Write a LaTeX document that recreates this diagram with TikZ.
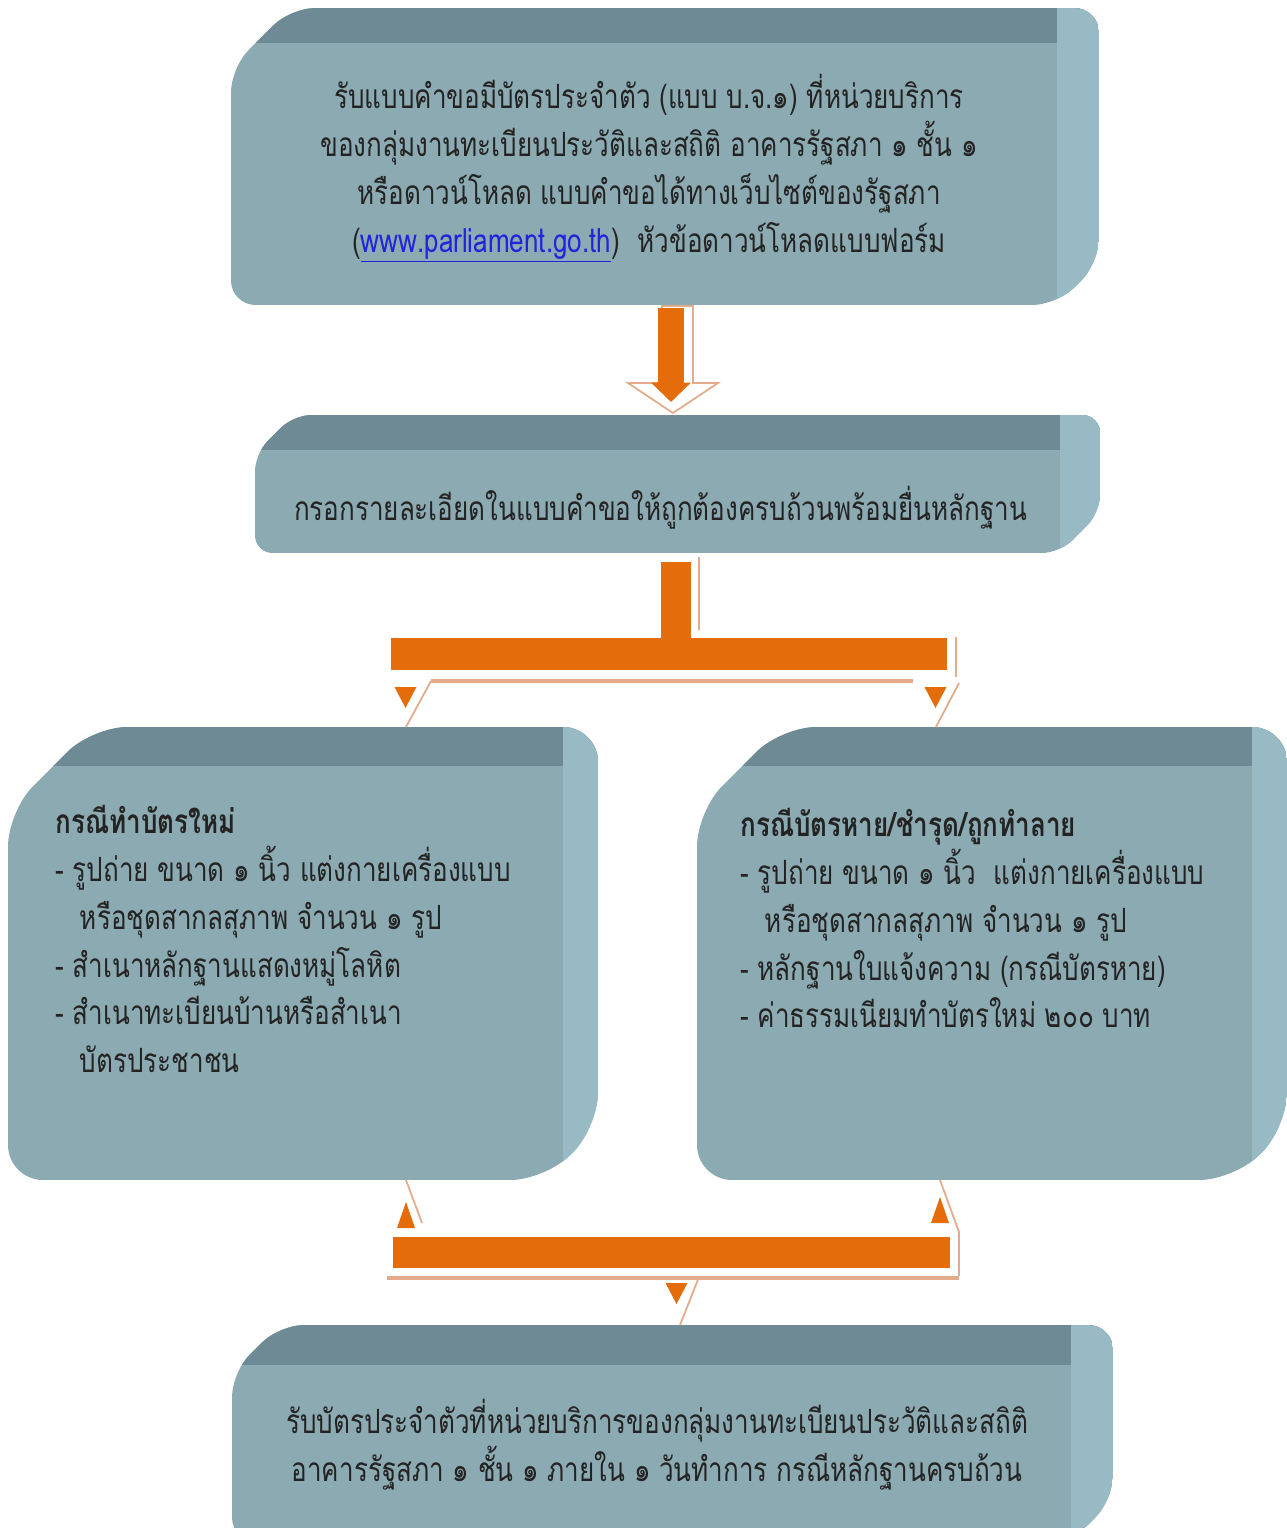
\documentclass[tikz,border=0pt]{standalone}
\usepackage{fontspec}
\newfontfamily\thaifont[Script=Thai, FakeStretch=0.78]{Loma}
\usetikzlibrary{arrows.meta,positioning,calc,fit}
\definecolor{panelFace}{RGB}{140,170,178}
\definecolor{panelTop}{RGB}{110,139,149}
\definecolor{panelSide}{RGB}{152,186,196}
\definecolor{flowOrange}{RGB}{228,108,10}
\definecolor{glowOrange}{RGB}{226,172,138}
\definecolor{linkBlue}{RGB}{35,35,220}
\definecolor{inkGrey}{RGB}{35,35,35}

% name, top cut, top band, side band, bottom cut, radius
\newcommand{\drawpanel}[6]{%
  \begin{scope}
    \clip[rounded corners=#6] let \p1=(#1.north west), \p2=(#1.south east) in
      (\x1,\y2) -- (\x1,\y1-#2) -- (\x1+#2,\y1) -- (\x2,\y1) -- (\x2,\y2+#5) -- (\x2-#5,\y2) -- cycle;
    \fill[panelFace] (#1.north west) rectangle (#1.south east);
    \fill[panelTop] (#1.north west) rectangle ([yshift=-#3]#1.north east);
    \fill[panelSide] ([xshift=-#4]#1.north east) rectangle (#1.south east);
  \end{scope}}

\tikzset{
  panel/.style={inner sep=0pt, outer sep=0pt},
  thaitext/.style={font=\thaifont\fontsize{19}{27.2}\selectfont, text=inkGrey, inner sep=0pt},
  blockarrow/.style={flowOrange, line width=14.7pt, -{Triangle[width=22pt, length=11pt]}},
  orangebar/.style={flowOrange, line width=#1},
  glow/.style={glowOrange, line width=#1},
  pics/tipdown/.style={code={\fill[flowOrange] (-11,0) -- (11,0) -- (0,21) -- cycle;}},
  pics/tipup/.style={code={\fill[flowOrange] (-9,0) -- (9,0) -- (0,-26) -- cycle;}}
}

\begin{document}
\begin{tikzpicture}[x=0.02cm, y=-0.02cm]
  \fill[white] (0,0) rectangle (1287,1528);
  \useasboundingbox (0,0) rectangle (1287,1528);

  % panels
  \node[panel, fit={(231,8) (1099,305)}] (ask) {};
  \node[panel, fit={(255,415) (1100,553)}] (fill) {};
  \node[panel, fit={(8,727) (598,1180)}] (newcard) {};
  \node[panel, fit={(697,727) (1287,1180)}] (lostcard) {};
  \node[panel, fit={(232,1325) (1113,1542)}] (receive) {};
  \drawpanel{ask}{34pt}{20pt}{24pt}{24pt}{14pt}
  \drawpanel{fill}{22pt}{20pt}{23pt}{23pt}{10pt}
  \drawpanel{newcard}{48pt}{22pt}{20pt}{30pt}{20pt}
  \drawpanel{lostcard}{48pt}{22pt}{20pt}{30pt}{20pt}
  \drawpanel{receive}{27pt}{23pt}{24pt}{24pt}{14pt}

  % texts
  \node[thaitext, align=center] (askText) at ($(ask.center)+(-16,12)$)
    {รับแบบคำขอมีบัตรประจำตัว (แบบ บ.จ.๑) ที่หน่วยบริการ\\
     ของกลุ่มงานทะเบียนประวัติและสถิติ อาคารรัฐสภา ๑ ชั้น ๑\\
     หรือดาวน์โหลด แบบคำขอได้ทางเว็บไซต์ของรัฐสภา\\
     (\textcolor{linkBlue}{\underline{www.parliament.go.th}})\ \ หัวข้อดาวน์โหลดแบบฟอร์ม};
  \node[thaitext] (fillText) at ($(fill.center)+(-17,24)$)
    {กรอกรายละเอียดในแบบคำขอให้ถูกต้องครบถ้วนพร้อมยื่นหลักฐาน};
  \node[thaitext, align=left, anchor=north west] (newText) at (55,805)
    {\textbf{กรณีทำบัตรใหม่}\\
     - รูปถ่าย ขนาด ๑ นิ้ว แต่งกายเครื่องแบบ\\
     \hspace*{14pt}หรือชุดสากลสุภาพ จำนวน ๑ รูป\\
     - สำเนาหลักฐานแสดงหมู่โลหิต\\
     - สำเนาทะเบียนบ้านหรือสำเนา\\
     \hspace*{14pt}บัตรประชาชน};
  \node[thaitext, align=left, anchor=north west] (lostText) at (740,808)
    {\textbf{กรณีบัตรหาย/ชำรุด/ถูกทำลาย}\\
     - รูปถ่าย ขนาด ๑ นิ้ว\ \ แต่งกายเครื่องแบบ\\
     \hspace*{14pt}หรือชุดสากลสุภาพ จำนวน ๑ รูป\\
     - หลักฐานใบแจ้งความ (กรณีบัตรหาย)\\
     - ค่าธรรมเนียมทำบัตรใหม่ ๒๐๐ บาท};
  \node[thaitext, align=center] (receiveText) at (657,1445)
    {รับบัตรประจำตัวที่หน่วยบริการของกลุ่มงานทะเบียนประวัติและสถิติ\\
     อาคารรัฐสภา ๑ ชั้น ๑ ภายใน ๑ วันทำการ กรณีหลักฐานครบถ้วน};

  % step arrow
  \filldraw[glow=1pt, fill=white] (662,306) -- (693,306) -- (693,383) -- (718,383)
    -- (673,413) -- (628,383) -- (662,383) -- cycle;
  \draw[blockarrow] ($(ask.south)+(6,3)$) -- ($(fill.north)+(-6.5,-13)$);

  % fork to the two cases
  \coordinate (forkL) at (391,654);
  \coordinate (forkR) at (947,654);
  \draw[glow=2.5pt] (431,681) -- (913,681);
  \draw[glow=1pt] (431,681) -- (newcard.north -| 406,0);
  \draw[glow=1pt] (959,683) -- (lostcard.north -| 936,0);
  \draw[glow=1pt] (956,637) -- (956,677);
  \draw[glow=1pt] (699,557) -- (699,630);
  \draw[orangebar=17pt] ($(fill.south)+(-1.5,9)$) -- ($(fill.south)+(-1.5,90)$);
  \draw[orangebar=18pt] (forkL) -- (forkR);
  \pic at (405.5,687) {tipdown};
  \pic at (935.5,687) {tipdown};

  % merge to the card pickup
  \coordinate (mergeL) at (393,1252.5);
  \coordinate (mergeR) at (950,1252.5);
  \draw[glow=2.5pt] (387,1278) -- (959,1278);
  \draw[glow=1pt] (newcard.south -| 406,0) -- (422,1223);
  \draw[glow=1pt] (lostcard.south -| 940,0) -- (959,1232) -- (959,1276);
  \draw[glow=1pt] (699,1277) -- (receive.north -| 680,0);
  \draw[orangebar=17.6pt] (mergeL) -- (mergeR);
  \pic at (406,1228) {tipup};
  \pic at (940,1223) {tipup};
  \pic at (676.5,1283) {tipdown};
\end{tikzpicture}
\end{document}
